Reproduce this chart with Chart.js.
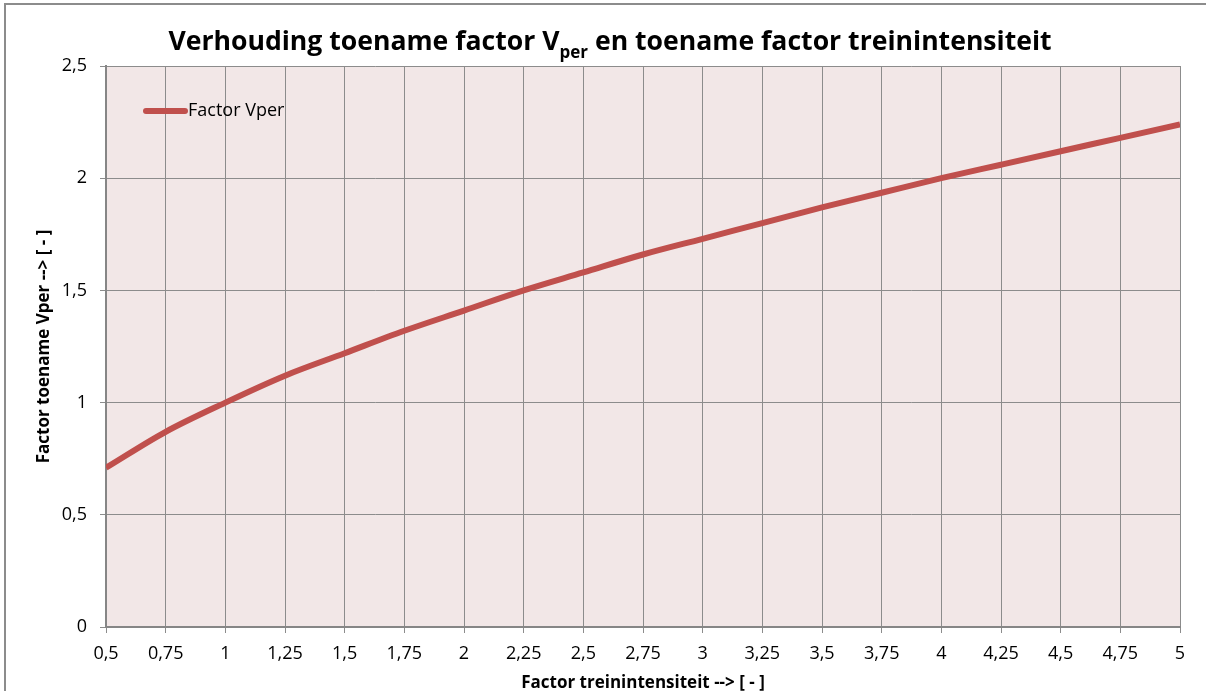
<!DOCTYPE html>
<html>
<head>
<meta charset="utf-8">
<script src="https://cdn.jsdelivr.net/npm/chart.js@4/dist/chart.umd.min.js"></script>
<style>
  html, body { margin: 0; padding: 0; background: #fff; }
  canvas { display: block; }
</style>
</head>
<body>
<canvas id="chart" width="1206" height="691"></canvas>
<script>
// factor treinintensiteit (x) en factor toename Vper (y)
const factorTrein = [0.5, 0.75, 1, 1.25, 1.5, 1.75, 2, 2.25, 2.5, 2.75, 3, 3.25, 3.5, 3.75, 4, 4.25, 4.5, 4.75, 5];
const factorVper  = [0.71, 0.87, 1.00, 1.12, 1.22, 1.32, 1.41, 1.50, 1.58, 1.66, 1.73, 1.80, 1.87, 1.935, 2.00, 2.06, 2.12, 2.18, 2.24];
const serieNaam = 'Factor Vper';
const titelDeel1 = 'Verhouding toename factor V';
const titelSub = 'per';
const titelDeel2 = ' en toename factor treinintensiteit';
const xTitel = 'Factor treinintensiteit --> [ - ]';
const yTitel = 'Factor toename Vper --> [ - ]';

const FONT = '"Open Sans", Lato, sans-serif';
const LIJN = '#C0504D';
const RASTER = '#8C8C8C';

function komma(v) {
    return String(+Number(v).toFixed(2)).replace('.', ',');
}

// achtergrond, rand en titel
const decor = {
    id: 'decor',
    beforeDraw(chart) {
        const { ctx, chartArea: a } = chart;
        ctx.save();
        ctx.fillStyle = '#fff';
        ctx.fillRect(0, 0, chart.width, chart.height);
        ctx.strokeStyle = '#8C8C8C';
        ctx.lineWidth = 2;
        ctx.strokeRect(5, 4, chart.width + 20, chart.height + 20);
        ctx.fillStyle = '#F2E7E7';
        ctx.fillRect(a.left, a.top, a.right - a.left, a.bottom - a.top);
        ctx.restore();
    },
    afterDraw(chart) {
        const ctx = chart.ctx;
        ctx.save();
        ctx.fillStyle = '#000';
        ctx.textBaseline = 'alphabetic';
        const big = 'bold 26.6px ' + FONT;
        const small = 'bold 17px ' + FONT;
        ctx.font = big;
        const w1 = ctx.measureText(titelDeel1).width;
        const w3 = ctx.measureText(titelDeel2).width;
        ctx.font = small;
        const w2 = ctx.measureText(titelSub).width;
        let x = 610 - (w1 + w2 + w3) / 2;
        ctx.font = big;
        ctx.fillText(titelDeel1, x, 50);
        x += w1;
        ctx.font = small;
        ctx.fillText(titelSub, x, 58);
        x += w2;
        ctx.font = big;
        ctx.fillText(titelDeel2, x, 50);

        // legenda in het plotvlak
        ctx.strokeStyle = LIJN;
        ctx.lineWidth = 6;
        ctx.lineCap = 'round';
        ctx.beginPath();
        ctx.moveTo(146, 111);
        ctx.lineTo(185, 111);
        ctx.stroke();
        ctx.font = '18px ' + FONT;
        ctx.textBaseline = 'middle';
        ctx.fillStyle = '#000';
        ctx.fillText(serieNaam, 188, 111);
        ctx.restore();
    }
};

new Chart(document.getElementById('chart'), {
    type: 'line',
    data: {
        datasets: [{
            label: serieNaam,
            data: factorTrein.map((x, i) => ({ x: x, y: factorVper[i] })),
            borderColor: LIJN,
            backgroundColor: LIJN,
            borderWidth: 6,
            borderCapStyle: 'butt',
            borderJoinStyle: 'round',
            pointRadius: 0,
            cubicInterpolationMode: 'monotone'
        }]
    },
    options: {
        responsive: false,
        animation: false,
        layout: { padding: { top: 66, right: 26, left: 0, bottom: 0 } },
        plugins: {
            legend: { display: false },
            title: { display: false },
            tooltip: { enabled: false }
        },
        scales: {
            x: {
                type: 'linear',
                min: 0.5,
                max: 5,
                afterFit(scale) { scale.height = 64; },
                grid: { color: RASTER, lineWidth: 1, tickLength: 6 },
                border: { color: '#868686', width: 2 },
                ticks: {
                    stepSize: 0.25,
                    color: '#000',
                    padding: 10,
                    maxRotation: 0,
                    autoSkip: false,
                    font: { family: FONT, size: 18 },
                    callback: v => komma(v)
                },
                title: {
                    display: true,
                    text: xTitel,
                    color: '#000',
                    padding: { top: 0, bottom: -2 },
                    font: { family: FONT, size: 17, weight: 'bold' }
                }
            },
            y: {
                min: 0,
                max: 2.5,
                afterFit(scale) { scale.width = 106; },
                grid: { color: RASTER, lineWidth: 1, tickLength: 6 },
                border: { color: '#868686', width: 2 },
                ticks: {
                    stepSize: 0.5,
                    color: '#000',
                    padding: 13,
                    font: { family: FONT, size: 18 },
                    callback: v => komma(v)
                },
                title: {
                    display: true,
                    text: yTitel,
                    color: '#000',
                    padding: { top: 34, bottom: 0 },
                    font: { family: FONT, size: 17, weight: 'bold' }
                }
            }
        }
    },
    plugins: [decor]
});
</script>
</body>
</html>
